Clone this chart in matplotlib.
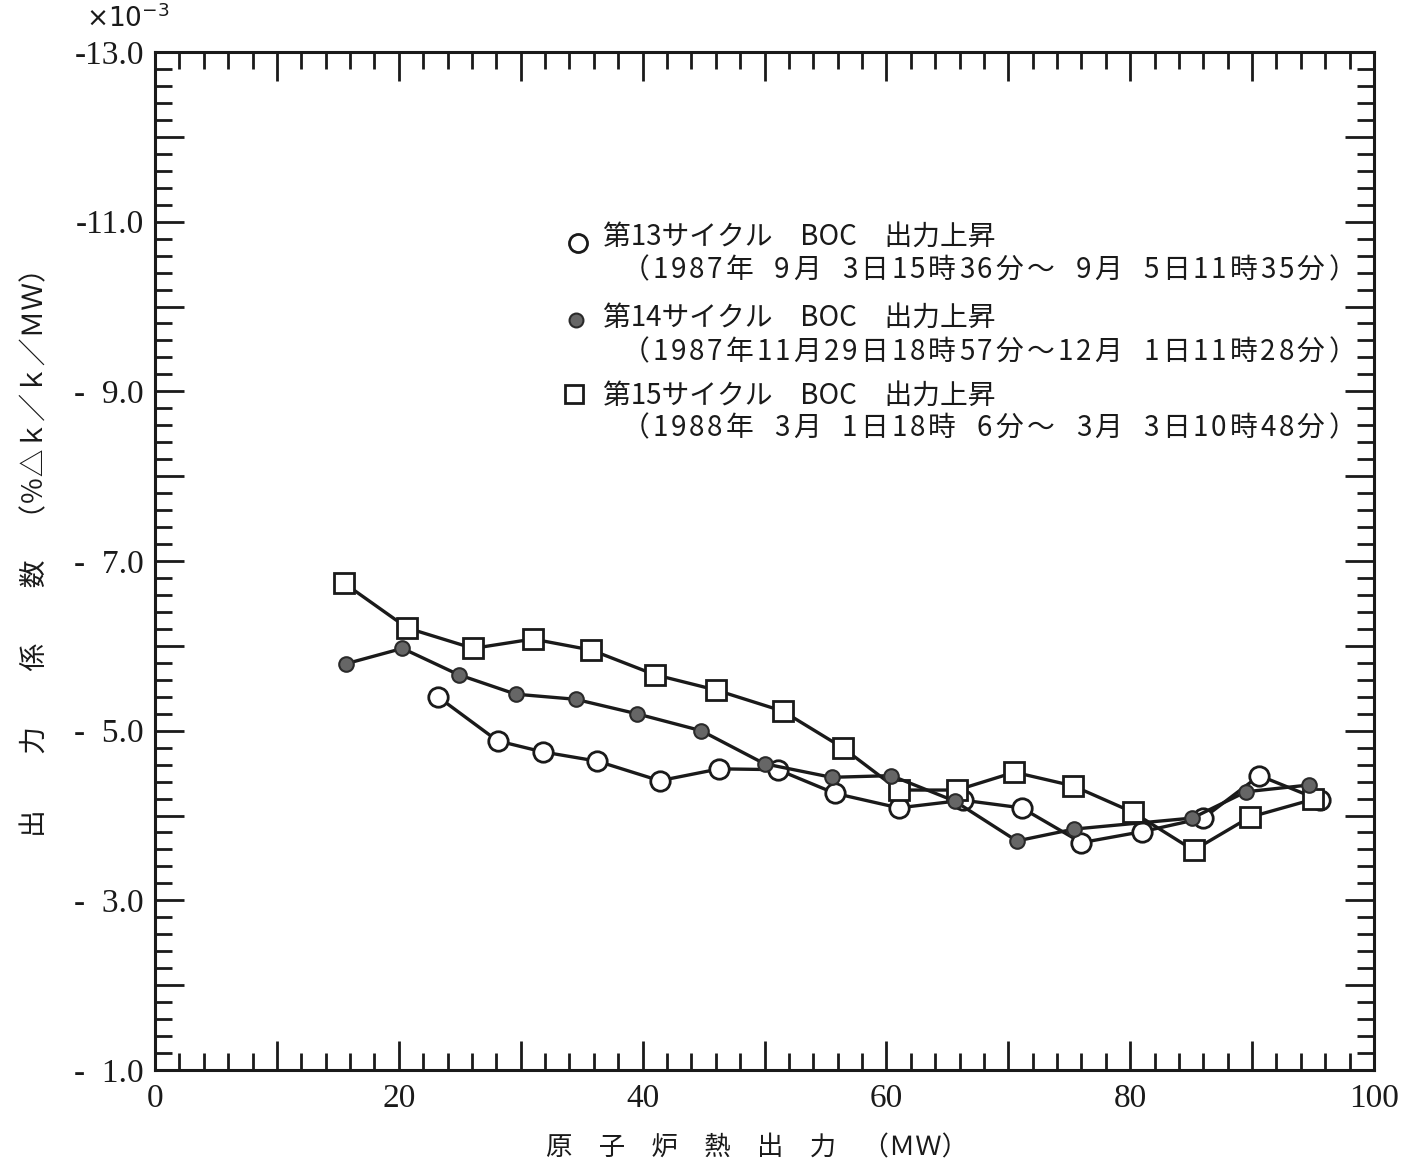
import matplotlib
matplotlib.use("Agg")
import matplotlib.pyplot as plt
from matplotlib.ticker import FixedLocator, MultipleLocator, FuncFormatter

plt.rcParams['font.family'] = ['Noto Sans CJK JP', 'DejaVu Sans']
plt.rcParams['axes.unicode_minus'] = False

# Power coefficient (x10^-3 %dk/k/MW) vs reactor thermal power (MW)
cycle13_power = [23.2, 28.1, 31.8, 36.3, 41.4, 46.3, 51.1, 55.8, 61.0, 66.3,
                 71.1, 76.0, 81.0, 86.0, 90.6, 95.6]
cycle13_coef = [-5.40, -4.88, -4.75, -4.64, -4.41, -4.55, -4.54, -4.26, -4.09, -4.18,
                -4.09, -3.68, -3.81, -3.97, -4.47, -4.18]

cycle14_power = [15.7, 20.3, 24.9, 29.6, 34.5, 39.5, 44.8, 50.0, 55.5, 60.4,
                 65.6, 70.7, 75.4, 85.1, 89.5, 94.7]
cycle14_coef = [-5.79, -5.97, -5.66, -5.43, -5.37, -5.20, -5.00, -4.61, -4.45, -4.47,
                -4.17, -3.70, -3.84, -3.97, -4.28, -4.36]

cycle15_power = [15.5, 20.7, 26.1, 31.0, 35.8, 41.0, 46.0, 51.5, 56.4, 61.0,
                 65.8, 70.5, 75.3, 80.2, 85.2, 89.8, 95.0]
cycle15_coef = [-6.74, -6.21, -5.97, -6.08, -5.95, -5.66, -5.48, -5.23, -4.80, -4.30,
                -4.30, -4.51, -4.35, -4.04, -3.59, -3.98, -4.19]

legend_titles = ["第13サイクル　BOC　出力上昇",
                 "第14サイクル　BOC　出力上昇",
                 "第15サイクル　BOC　出力上昇"]
legend_periods = ["（1987年 9月 3日15時36分～ 9月 5日11時35分）",
                  "（1987年11月29日18時57分～12月 1日11時28分）",
                  "（1988年 3月 1日18時 6分～ 3月 3日10時48分）"]

x_ticklabels = [0, 20, 40, 60, 80, 100]
y_ticklabels = [-1.0, -3.0, -5.0, -7.0, -9.0, -11.0, -13.0]

W, H = 1404, 1169
fig = plt.figure(figsize=(W / 100, H / 100), dpi=100)
ax = fig.add_axes([155 / W, 1 - 1070 / H, 1219 / W, 1018 / H])

lw = 2.4
ink = '#1a1a1a'
ax.plot(cycle13_power, cycle13_coef, '-', color=ink, lw=lw, marker='o', ms=14,
        mfc='white', mec=ink, mew=2.0, zorder=3)
ax.plot(cycle14_power, cycle14_coef, '-', color=ink, lw=lw, marker='o', ms=10.5,
        mfc='#666666', mec='#2a2a2a', mew=1.5, zorder=4)
ax.plot(cycle15_power, cycle15_coef, '-', color=ink, lw=lw, marker='s', ms=14,
        mfc='white', mec=ink, mew=2.0, zorder=3)

ax.set_xlim(0, 100)
ax.set_ylim(-1.0, -13.0)

ax.xaxis.set_major_locator(MultipleLocator(10))
ax.xaxis.set_minor_locator(MultipleLocator(2))
ax.xaxis.set_major_formatter(FuncFormatter(
    lambda v, p: f"{int(round(v))}" if int(round(v)) in x_ticklabels else ""))

ax.yaxis.set_major_locator(FixedLocator([-float(i) for i in range(1, 14)]))
ax.yaxis.set_minor_locator(MultipleLocator(0.2))


def yfmt(v, p):
    if round(v, 1) not in y_ticklabels:
        return ""
    a = abs(v)
    return "-" + ("  " if a < 10 else "") + f"{a:.1f}"


ax.yaxis.set_major_formatter(FuncFormatter(yfmt))

for lab in ax.get_xticklabels() + ax.get_yticklabels():
    lab.set_family('Liberation Serif')
    lab.set_fontsize(24)
    lab.set_color(ink)

ax.tick_params(which='both', direction='in', top=True, right=True, color=ink, width=2.0)
ax.tick_params(which='major', length=21)
ax.tick_params(which='minor', length=12)
ax.tick_params(axis='x', which='major', pad=10)
ax.tick_params(axis='y', which='major', pad=8)
for s in ax.spines.values():
    s.set_linewidth(2.2)
    s.set_color(ink)

fig.text(86 / W, 1 - 18 / H, r"$\times10^{-3}$", fontsize=19, color=ink,
         family='DejaVu Serif', va='center', ha='left')


def grid_text(x0, yc, s, full, half, size):
    """Lay out a line on a fixed character grid (half-width for ASCII)."""
    x = x0
    for ch in s:
        step = half if ord(ch) < 0x2000 else full
        if ch != ' ':
            fig.text((x + step / 2) / W, 1 - yc / H, ch, fontsize=size,
                     ha='center', va='center', color=ink)
        x += step


# legend block
marker_specs = [
    dict(marker='o', ms=13, mfc='white', mec=ink, mew=2.0),
    dict(marker='o', ms=10, mfc='#666666', mec='#2a2a2a', mew=1.5),
    dict(marker='s', ms=13, mfc='white', mec=ink, mew=2.0),
]
marker_pos = [(578, 243), (576, 320), (574, 394)]
line1_y = [237, 318, 396]
line2_y = [270, 352, 428]
for spec, (mx, my), y1, y2, t1, t2 in zip(marker_specs, marker_pos, line1_y, line2_y,
                                          legend_titles, legend_periods):
    ax.plot([(mx - 155) / 1219], [1 - (my - 52) / 1018], transform=ax.transAxes,
            clip_on=False, ls='none', **spec)
    fig.text(603 / W, 1 - y1 / H, t1, fontsize=20, va='center', ha='left', color=ink)
    grid_text(620, y2, t2, full=31.5, half=18.0, size=20)

fig.text(757 / W, 1 - 1148 / H, "原　子　炉　熱　出　力　（ＭＷ）", fontsize=19,
         ha='center', va='center', color=ink)
fig.text(35 / W, 1 - 546 / H, "出　　力　　係　　数　（％△ｋ／ｋ／ＭＷ）", fontsize=20,
         rotation=90, ha='center', va='center', color=ink)

fig.savefig("out.png", dpi=100, facecolor='white')
